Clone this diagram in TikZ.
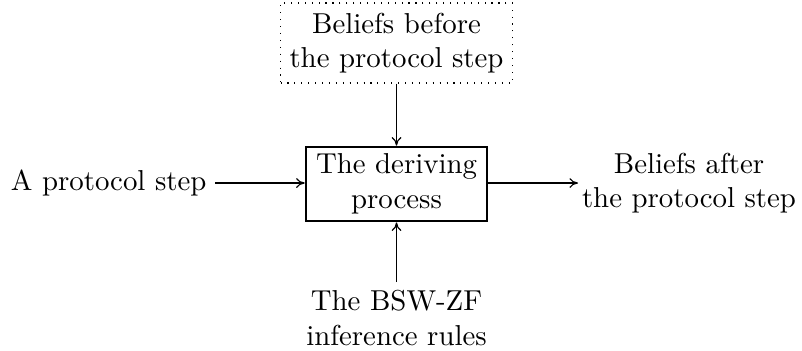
\documentclass[tikz,border=0pt]{standalone}
\usetikzlibrary{arrows.meta}
\begin{document}
\begin{tikzpicture}[x=0.347pt,y=-0.347pt,
  txt/.style={align=center,inner sep=0pt,font=\normalsize},
  dotbox/.style={draw,dotted,align=center,minimum width=80.5pt,minimum height=27.8pt,inner sep=0pt},
  procbox/.style={draw,line width=0.9pt,align=center,minimum width=62.8pt,minimum height=25.7pt,inner sep=0pt},
  tip/.style={-{To[length=3pt,width=3.4pt,line width=0.4pt]}},
  flowin/.style={line width=0.9pt,tip},
  feed/.style={line width=0.5pt,tip}]
\useasboundingbox (0,0) rectangle (802,350);
\node[dotbox] (before) at (396.5,43) {Beliefs before\\the protocol step};
\node[procbox] (proc) at (396.5,184) {The deriving\\process};
\node[txt,anchor=east] (step) at (207,183) {A protocol step};
\node[txt] (after) at (689,183) {Beliefs after\\the protocol step};
\node[txt] (rules) at (396.5,318) {The BSW-ZF\\inference rules};
\coordinate (stepend) at (215,183);
\coordinate (afterstart) at (578,183);
\coordinate (rulesend) at (396.5,282);
\draw[flowin] (stepend) -- (proc.west |- stepend);
\draw[flowin] (proc.east |- stepend) -- (afterstart);
\draw[feed] (before.south) -- (proc.north);
\draw[feed] (rulesend) -- (proc.south);
\end{tikzpicture}
\end{document}
